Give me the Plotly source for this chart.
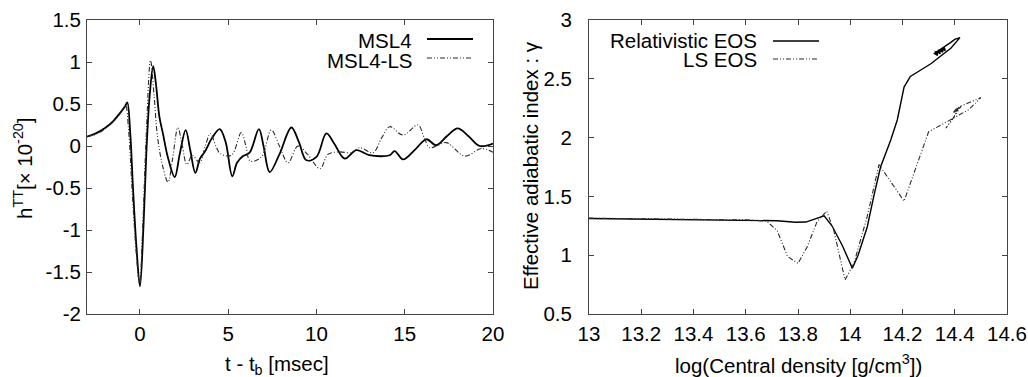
import plotly.graph_objects as go

# ---------------- data: left panel (gravitational waveform) ----------------
t_msl4 = [-3.0, -2.5, -2.0, -1.5, -1.1, -0.85, -0.72, -0.55, -0.4, -0.2, 0.0, 0.2, 0.36, 0.55, 0.75,
          0.9, 1.1, 1.3, 1.6, 1.97, 2.25, 2.59, 2.85, 3.14, 3.4, 3.67, 4.1, 4.52, 4.85, 5.23, 5.5,
          5.84, 6.21, 6.74, 7.0, 7.35, 7.9, 8.58, 9.0, 9.43, 10.0, 10.56, 11.0, 11.6, 12.26, 13.0,
          14.15, 14.43, 14.9, 15.6, 16.22, 16.79, 17.4, 18.0, 18.6, 19.25, 20.0]
h_msl4 = [0.11, 0.15, 0.21, 0.30, 0.40, 0.47, 0.52, 0.15, -0.48, -1.2, -1.67, -0.95, -0.09, 0.6, 0.95,
          0.75, 0.35, 0.15, -0.15, -0.37, -0.1, 0.19, -0.05, -0.32, -0.15, -0.07, 0.1, 0.20, 0.05, -0.36, -0.2,
          -0.12, -0.08, 0.20, 0.0, -0.31, -0.1, 0.22, 0.05, -0.17, -0.13, 0.15, 0.03, -0.15, -0.05, -0.11,
          -0.11, -0.06, -0.16, -0.04, 0.08, 0.01, 0.12, 0.21, 0.12, 0.0, 0.03]

t_msl4ls = [-3.0, -2.5, -2.0, -1.5, -1.1, -0.82, -0.65, -0.45, -0.2, -0.02, 0.15, 0.35, 0.6, 0.8, 1.0,
            1.3, 1.59, 1.85, 2.15, 2.4, 2.66, 2.97, 3.38, 3.7, 3.99, 4.3, 4.55, 5.18, 5.74, 6.0, 6.25,
            6.88, 7.44, 7.9, 8.39, 8.95, 9.5, 10.2, 10.65, 11.3, 11.98, 12.45, 13.2, 13.7, 14.15, 14.9,
            15.75, 16.1, 16.41, 16.8, 17.36, 18.4, 19.34, 20.0]
h_msl4ls = [0.11, 0.14, 0.20, 0.29, 0.39, 0.48, 0.2, -0.5, -1.3, -1.64, -1.0, 0.1, 1.02, 0.6, 0.1,
            -0.25, -0.43, -0.15, 0.22, 0.0, -0.22, -0.11, -0.2, 0.0, 0.15, 0.0, -0.09, -0.11, 0.16, 0.0, -0.18,
            -0.13, 0.19, 0.0, -0.2, 0.0, -0.1, -0.27, -0.1, -0.07, -0.08, -0.02, -0.08, 0.1, 0.23, 0.13,
            0.25, 0.1, -0.02, 0.0, 0.04, -0.12, -0.03, -0.075]

# ---------------- data: right panel (effective adiabatic index) ----------------
rho_rel = [13.00, 13.2, 13.4, 13.6, 13.72, 13.79, 13.83, 13.9, 13.93, 13.97, 14.008, 14.03, 14.065,
           14.09, 14.116, 14.155, 14.18, 14.206, 14.23, 14.27, 14.31, 14.35, 14.385, 14.42, 14.40,
           14.385, 14.36, 14.322, 14.334, 14.332, 14.344, 14.342, 14.354, 14.352, 14.364, 14.36,
           14.352, 14.35, 14.34, 14.338, 14.328, 14.326, 14.336]
gam_rel = [1.312, 1.308, 1.305, 1.300, 1.293, 1.280, 1.282, 1.335, 1.25, 1.08, 0.89, 1.00, 1.24,
           1.50, 1.75, 1.98, 2.15, 2.43, 2.52, 2.575, 2.63, 2.70, 2.76, 2.85, 2.835,
           2.81, 2.775, 2.715, 2.70, 2.728, 2.713, 2.741, 2.726, 2.754, 2.739, 2.765,
           2.73, 2.755, 2.72, 2.745, 2.71, 2.73, 2.725]

rho_ls = [13.00, 13.2, 13.4, 13.6, 13.68, 13.72, 13.76, 13.80, 13.835, 13.873, 13.91, 13.937, 13.98,
          14.014, 14.065, 14.11, 14.206, 14.244, 14.30, 14.35, 14.37, 14.41, 14.455, 14.50, 14.455,
          14.42, 14.40, 14.41, 14.395, 14.42, 14.40, 14.425, 14.405, 14.366, 14.39, 14.41, 14.398,
          14.418, 14.404, 14.42, 14.41]
gam_ls = [1.315, 1.31, 1.305, 1.30, 1.29, 1.21, 0.99, 0.93, 1.07, 1.285, 1.375, 1.21, 0.79,
          0.93, 1.33, 1.77, 1.46, 1.70, 2.05, 2.11, 2.135, 2.19, 2.24, 2.34, 2.30,
          2.265, 2.22, 2.255, 2.215, 2.265, 2.22, 2.27, 2.2, 2.08, 2.15, 2.23, 2.215,
          2.26, 2.22, 2.255, 2.24]

# ---------------- tick labels ----------------
left_xticks = [0, 5, 10, 15, 20]
left_xlabels = ["0", "5", "10", "15", "20"]
left_yticks = [-2, -1.5, -1, -0.5, 0, 0.5, 1, 1.5]
left_ylabels = ["-2", "-1.5", "-1", "-0.5", "0", "0.5", "1", "1.5"]
right_xticks = [13, 13.2, 13.4, 13.6, 13.8, 14, 14.2, 14.4, 14.6]
right_xlabels = ["13", "13.2", "13.4", "13.6", "13.8", "14", "14.2", "14.4", "14.6"]
right_yticks = [0.5, 1, 1.5, 2, 2.5, 3]
right_ylabels = ["0.5", "1", "1.5", "2", "2.5", "3"]

series_names = ["MSL4", "MSL4-LS", "Relativistic EOS", "LS EOS"]

# ---------------- figure ----------------
W, H = 1028, 377
FONT = "Liberation Sans, Arial, Helvetica, sans-serif"
FS = 20.5
DASH = "5px,2px,1px,2px,1px,2px"
SOLID_C = "#000000"
DASH_C = "#2a2a2a"

fig = go.Figure()
fig.add_trace(go.Scatter(x=t_msl4, y=h_msl4, mode="lines", name=series_names[0],
                         line=dict(color=SOLID_C, width=1.8, shape="spline", smoothing=1.0),
                         xaxis="x", yaxis="y", showlegend=False))
fig.add_trace(go.Scatter(x=t_msl4ls, y=h_msl4ls, mode="lines", name=series_names[1],
                         line=dict(color=DASH_C, width=1.1, dash=DASH, shape="spline", smoothing=1.0),
                         xaxis="x", yaxis="y", showlegend=False))
fig.add_trace(go.Scatter(x=rho_rel, y=gam_rel, mode="lines", name=series_names[2],
                         line=dict(color=SOLID_C, width=1.4),
                         xaxis="x2", yaxis="y2", showlegend=False))
fig.add_trace(go.Scatter(x=rho_ls, y=gam_ls, mode="lines", name=series_names[3],
                         line=dict(color=DASH_C, width=1.1, dash=DASH),
                         xaxis="x2", yaxis="y2", showlegend=False))


def px_x(p):
    return p / W


def px_y(p):
    return 1 - p / H


axis_common = dict(showline=True, linecolor="#444", linewidth=1, mirror="ticks",
                   ticks="inside", ticklen=5, tickcolor="#444", tickwidth=1,
                   showgrid=False, zeroline=False, automargin=False,
                   tickfont=dict(family=FONT, size=FS, color="#000"))

ydom = [px_y(314), px_y(20)]
fig.update_layout(
    width=W, height=H,
    margin=dict(l=0, r=0, t=0, b=0, pad=0, autoexpand=False),
    paper_bgcolor="white", plot_bgcolor="white",
    showlegend=False,
    font=dict(family=FONT, size=FS, color="#000"),
    xaxis=dict(domain=[px_x(87), px_x(493)], range=[-3, 20], tickvals=left_xticks,
               ticktext=left_xlabels, anchor="y", ticklabelstandoff=1, **axis_common),
    yaxis=dict(domain=ydom, range=[-2, 1.5], tickvals=left_yticks, ticktext=left_ylabels,
               anchor="x", ticklabelstandoff=1, **axis_common),
    xaxis2=dict(domain=[px_x(589), px_x(1007)], range=[13, 14.6], tickvals=right_xticks,
                ticktext=right_xlabels, anchor="y2", ticklabelstandoff=1, **axis_common),
    yaxis2=dict(domain=ydom, range=[0.5, 3], tickvals=right_yticks, ticktext=right_ylabels,
                anchor="x2", ticklabelstandoff=12, **axis_common),
)

annotations = [
    dict(text="t - t<sub>b</sub> [msec]", x=px_x(277), y=px_y(365), xanchor="center", yanchor="middle"),
    dict(text="log(Central density [g/cm<sup>3</sup>])", x=px_x(798), y=px_y(364),
         xanchor="center", yanchor="middle"),
    dict(text="h<sup>TT</sup>[× 10<sup>-20</sup>]", x=px_x(23), y=px_y(168), textangle=-90,
         xanchor="center", yanchor="middle"),
    dict(text="Effective adiabatic index : γ", x=px_x(530), y=px_y(166), textangle=-90,
         xanchor="center", yanchor="middle"),
    dict(text=series_names[0], x=px_x(414), y=px_y(40), xanchor="right", yanchor="middle"),
    dict(text=series_names[1], x=px_x(414), y=px_y(60), xanchor="right", yanchor="middle"),
    dict(text=series_names[2], x=px_x(759), y=px_y(40), xanchor="right", yanchor="middle"),
    dict(text=series_names[3], x=px_x(759), y=px_y(59), xanchor="right", yanchor="middle"),
]
for a in annotations:
    a.update(xref="paper", yref="paper", showarrow=False,
             font=dict(family=FONT, size=FS, color="#000"))
fig.update_layout(annotations=annotations)

shapes = [
    dict(x0=px_x(427), x1=px_x(473), y0=px_y(39), y1=px_y(39),
         line=dict(color=SOLID_C, width=1.8)),
    dict(x0=px_x(427), x1=px_x(473), y0=px_y(58), y1=px_y(58),
         line=dict(color=DASH_C, width=1.1, dash=DASH)),
    dict(x0=px_x(773), x1=px_x(819), y0=px_y(41), y1=px_y(41),
         line=dict(color=SOLID_C, width=1.4)),
    dict(x0=px_x(773), x1=px_x(819), y0=px_y(59), y1=px_y(59),
         line=dict(color=DASH_C, width=1.1, dash=DASH)),
]
for s in shapes:
    s.update(type="line", xref="paper", yref="paper")
fig.update_layout(shapes=shapes)

# remove the default page margin so the 1028x377 figure fills the window exactly
fig.write_html("out.html",
               config={"displayModeBar": False},
               post_script="document.body.style.margin='0';document.body.style.overflow='hidden';")
